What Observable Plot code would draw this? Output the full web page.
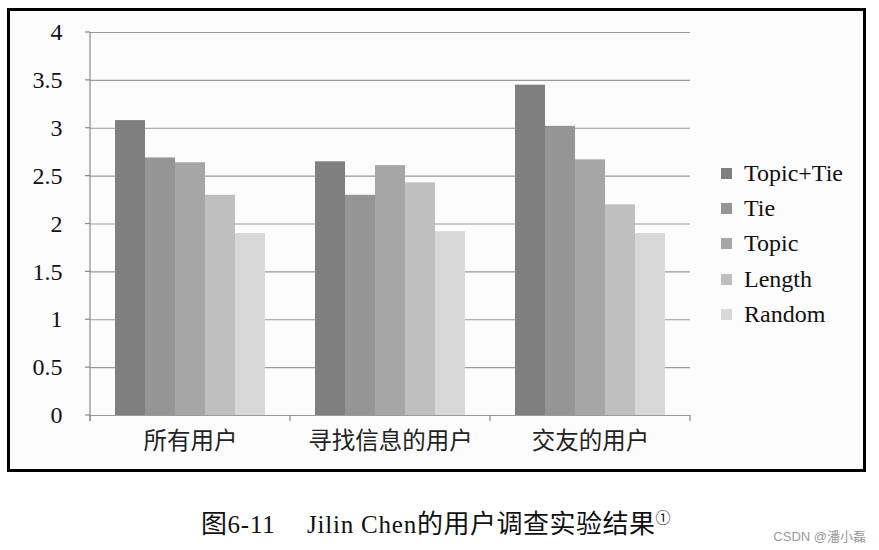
<!DOCTYPE html>
<html>
<head>
<meta charset="utf-8">
<script src="https://cdn.jsdelivr.net/npm/d3@7"></script>
<script src="https://cdn.jsdelivr.net/npm/@observablehq/plot@0.6"></script>
<style>
  html, body { margin: 0; padding: 0; background: #fff; }
  #page { position: relative; width: 879px; height: 550px; overflow: hidden; }
  #frame { position: absolute; left: 7px; top: 8px; width: 853px; height: 458px; border: 3px solid #000; background: #fcfcfc; }
  #chart { position: absolute; left: 0; top: 0; }
  #legend { position: absolute; left: 721px; top: 156px; font-family: "Liberation Serif", serif; font-size: 24px; color: #111; }
  #legend .row { height: 35.2px; display: flex; align-items: center; white-space: nowrap; }
  #legend .sw { width: 11px; height: 11px; margin-right: 12px; }
  #caption { position: absolute; left: 201px; top: 503px; font-family: "Liberation Serif", "Noto Sans CJK SC", serif; font-size: 25px; color: #111; white-space: pre; }
  #caption .lat { letter-spacing: 0.8px; }
  #caption .cjk { font-size: 26px; letter-spacing: 0.5px; }
  #caption sup { font-size: 15px; vertical-align: 10px; }
  #mark { position: absolute; right: 13px; top: 526px; font-family: "Liberation Sans", "Noto Sans CJK SC", sans-serif; font-size: 13px; color: #9a9a9a; }
</style>
</head>
<body>
<div id="page">
  <div id="frame"></div>
  <div id="chart"></div>
  <div id="legend"></div>
  <div id="caption"></div>
  <div id="mark">CSDN @潘小磊</div>
</div>
<script>
const groups = ["所有用户", "寻找信息的用户", "交友的用户"];
const series = ["Topic+Tie", "Tie", "Topic", "Length", "Random"];
const topicTie = [3.08, 2.65, 3.45];
const tie = [2.69, 2.30, 3.02];
const topic = [2.64, 2.61, 2.67];
const lengthS = [2.30, 2.43, 2.20];
const randomS = [1.90, 1.92, 1.90];
const yTicks = [0, 0.5, 1, 1.5, 2, 2.5, 3, 3.5, 4];
const colors = ["#7f7f7f", "#959595", "#a6a6a6", "#bfbfbf", "#d8d8d8"];
const captionParts = ["图", "6-11", "　 ", "Jilin Chen", "的用户调查实验结果"];
const captionNote = "①";

const seriesValues = [topicTie, tie, topic, lengthS, randomS];
const data = [];
groups.forEach((g, gi) => series.forEach((s, si) => data.push({group: g, series: s, value: seriesValues[si][gi]})));

const plot = Plot.plot({
  width: 879,
  height: 480,
  marginLeft: 90,
  marginRight: 189,
  marginTop: 32,
  marginBottom: 65,
  style: {background: "transparent", fontFamily: "\"Liberation Serif\", \"Noto Sans CJK SC\", serif", color: "#111"},
  fx: {domain: groups, padding: 0, label: null, tickSize: 0, tickPadding: 17},
  x: {domain: series, paddingInner: 0, paddingOuter: 0.755, axis: null},
  y: {domain: [0, 4], ticks: yTicks, tickFormat: d => String(d), tickSize: 0, tickPadding: 28, label: null},
  color: {domain: series, range: colors},
  marks: [
    Plot.ruleY(yTicks, {stroke: "#9a9a9a", strokeWidth: 1.2}),
    Plot.barY(data, {fx: "group", x: "series", y: "value", fill: "series"})
  ]
});
document.getElementById("chart").appendChild(plot);

const svg = d3.select(plot);
svg.selectAll("text").style("font-size", "24px");
svg.selectAll('[aria-label^="fx-axis"] text, [aria-label^="fx-axis"]').style("font-family", "\"Noto Sans CJK SC\", sans-serif").style("font-size", "23.5px").style("fill", "#222");

// axis lines using the library's scales
const ys = plot.scale("y");
const fxs = plot.scale("fx");
const y0 = ys.apply(0), yTop = ys.apply(4);
const x0 = fxs.apply(groups[0]);
const g = svg.append("g").attr("stroke", "#8a8a8a").attr("stroke-width", 1.2);
g.append("line").attr("x1", x0).attr("x2", x0).attr("y1", yTop).attr("y2", y0 + 6);
yTicks.forEach(t => g.append("line").attr("x1", x0 - 5).attr("x2", x0).attr("y1", ys.apply(t)).attr("y2", ys.apply(t)));
const bounds = groups.map(gr => fxs.apply(gr)).concat([fxs.apply(groups[groups.length - 1]) + fxs.bandwidth]);
bounds.forEach(b => g.append("line").attr("x1", b).attr("x2", b).attr("y1", y0).attr("y2", y0 + 6));

// legend
const legend = d3.select("#legend");
series.forEach((s, i) => {
  const row = legend.append("div").attr("class", "row");
  row.append("div").attr("class", "sw").style("background", colors[i]);
  row.append("span").text(s);
});

const cap = d3.select("#caption");
captionParts.forEach((p, i) => cap.append("span").attr("class", i === 1 || i === 3 ? "lat" : (i === 0 || i === 4 ? "cjk" : null)).text(p));
cap.append("sup").text(captionNote);
</script>
</body>
</html>
